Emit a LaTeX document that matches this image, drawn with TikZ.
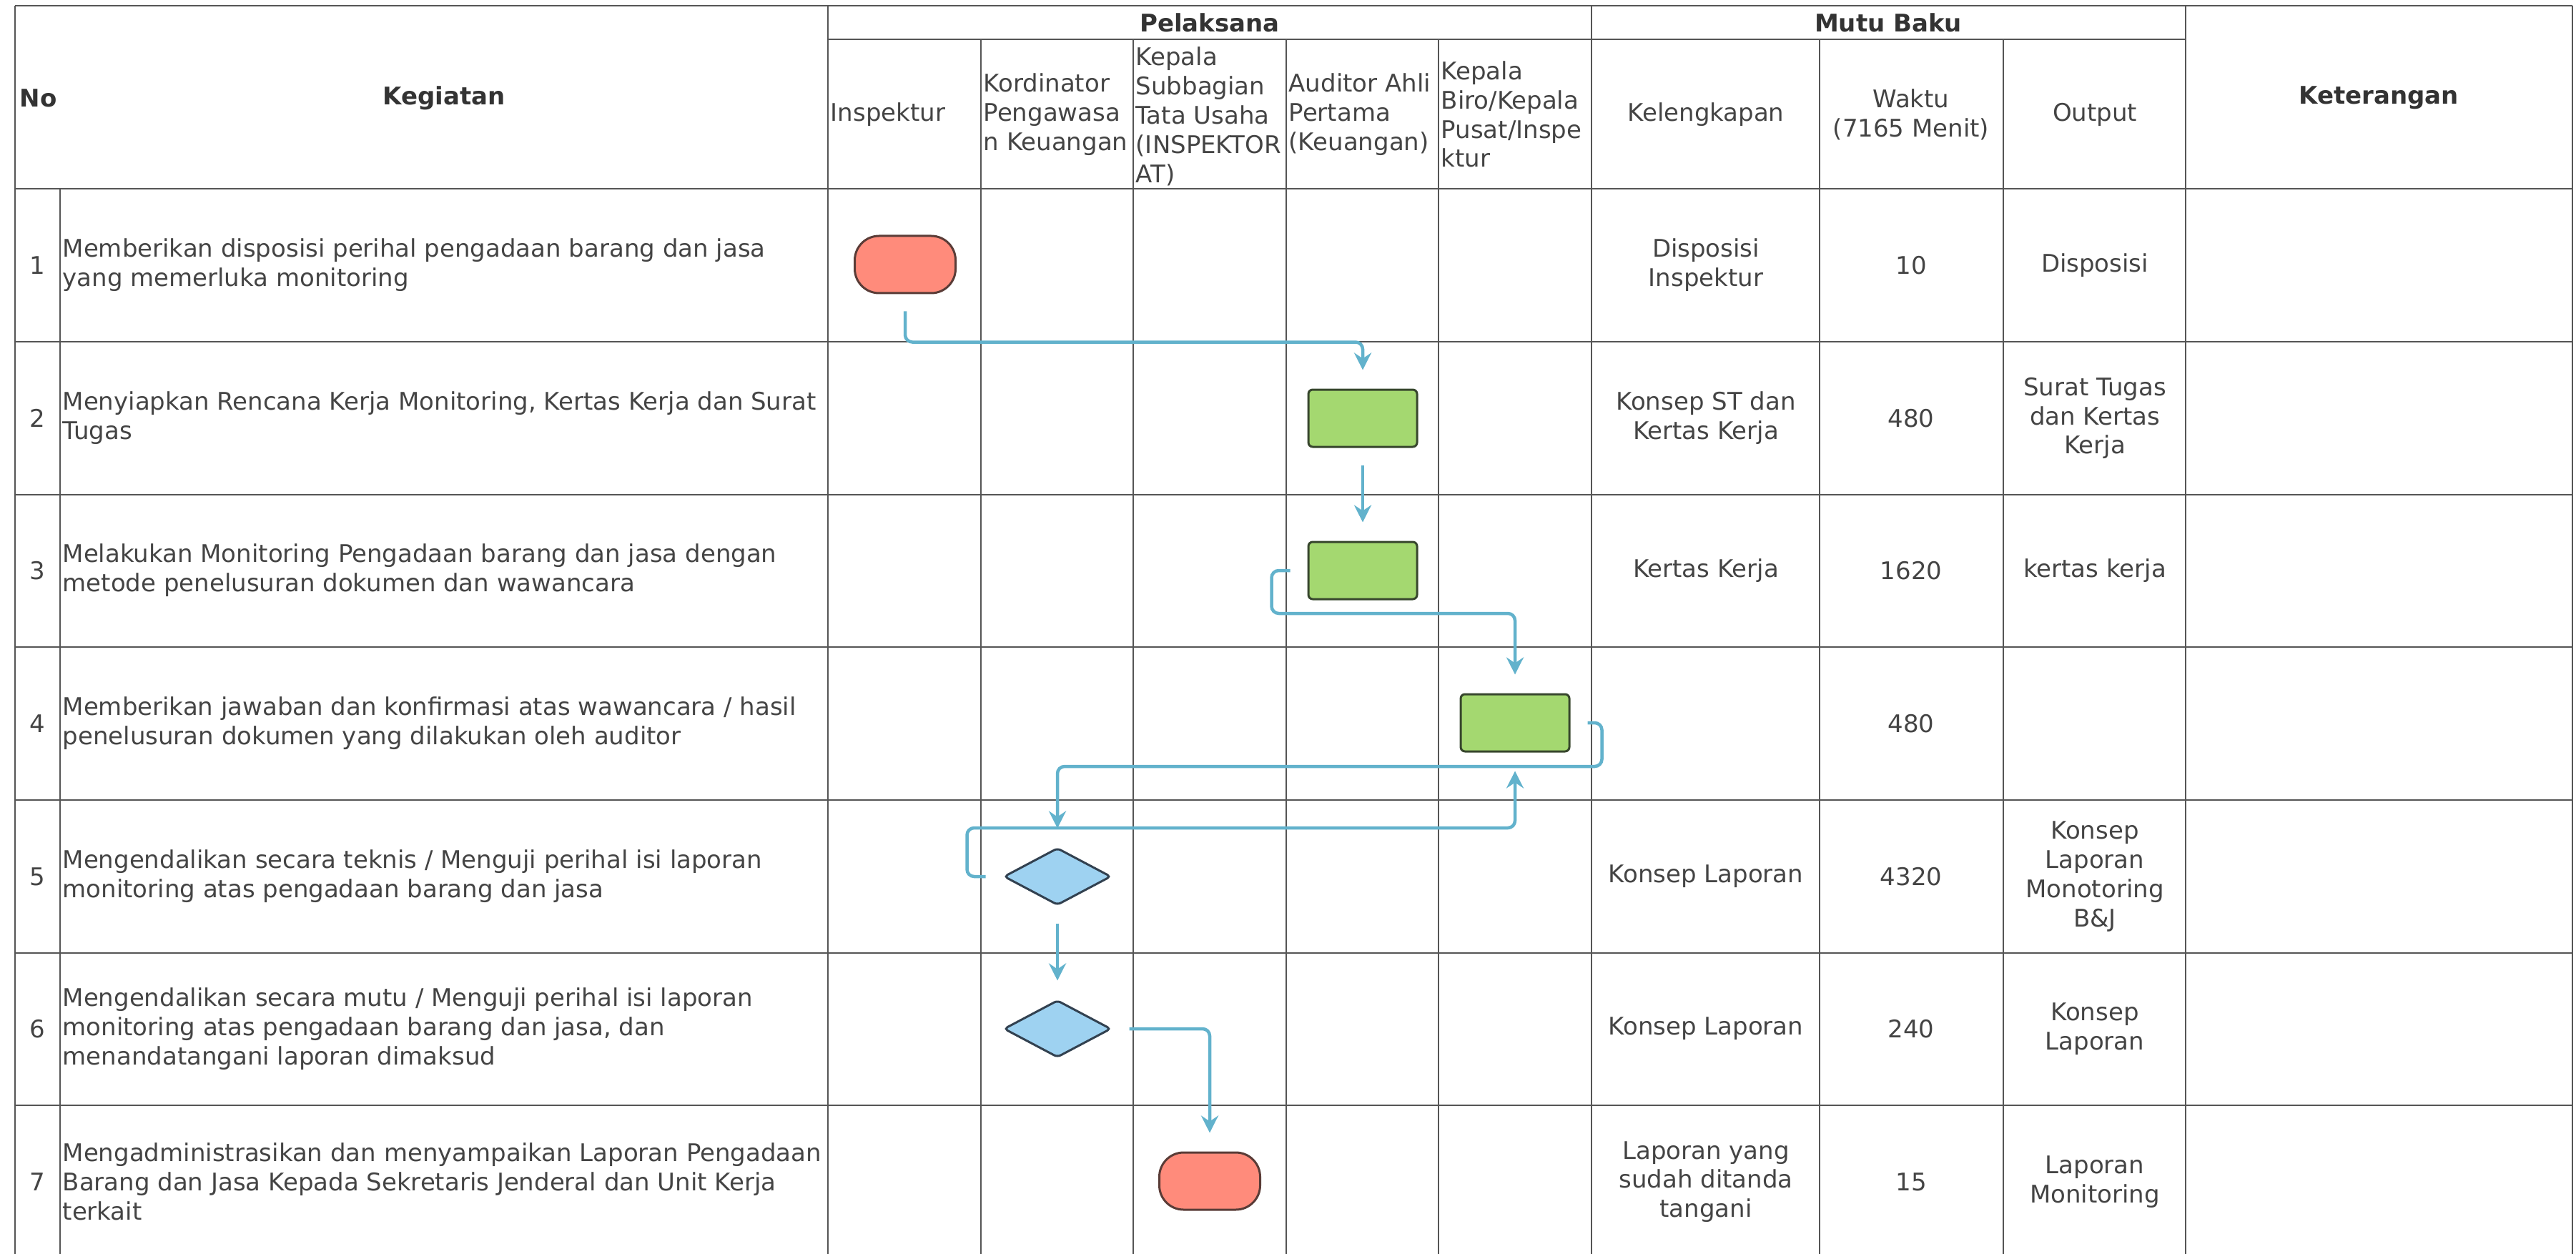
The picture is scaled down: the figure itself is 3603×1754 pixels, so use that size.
\documentclass[tikz,border=0pt]{standalone}
\usepackage{fontspec}
\setmainfont{DejaVu Sans}
\usetikzlibrary{arrows.meta,shapes.geometric}

\begin{document}
\begin{tikzpicture}[x=0.1mm,y=-0.1mm]
% ------------------------------------------------ flow chart colors
\definecolor{fc_grid}{RGB}{85,85,85}     %#555555
\definecolor{fc_text}{RGB}{68,68,68}     %#444444
\definecolor{fc_head}{RGB}{51,51,51}     %#333333
\definecolor{fc_red}{RGB}{255,139,123}   %#FF8B7B
\definecolor{fc_green}{RGB}{164,216,112} %#A4D870
\definecolor{fc_blue}{RGB}{158,210,241}  %#9ED2F1
\definecolor{fc_line}{RGB}{98,178,204}   %#62B2CC

\tikzset{
  grid/.style={draw=fc_grid,line width=0.28mm},
  txt/.style={text=fc_text,inner sep=0,align=center,font=\fontsize{9.67}{11.62}\selectfont},
  hdr/.style={txt,text=fc_head,font=\fontsize{9.67}{11.62}\selectfont\bfseries},
  lft/.style={txt,anchor=west,align=left},
  terminal/.style={draw={rgb,255:red,90;green,60;blue,55},fill=fc_red,line width=0.3mm,
    rounded corners=3.4mm,minimum width=14.1mm,minimum height=8mm,inner sep=0},
  process/.style={draw={rgb,255:red,55;green,70;blue,45},fill=fc_green,line width=0.3mm,
    rounded corners=0.6mm,minimum width=15.2mm,minimum height=8mm,inner sep=0},
  decision/.style={diamond,aspect=1.875,draw={rgb,255:red,50;green,65;blue,80},fill=fc_blue,
    line width=0.3mm,rounded corners=0.5mm,minimum width=15mm,minimum height=8mm,inner sep=0},
  flow/.style={draw=fc_line,line width=0.45mm,rounded corners=1mm,shorten <=2.4mm,shorten >=2.6mm,
    -{Stealth[length=2.4mm,width=2.4mm,inset=0.8mm]}}
}

\useasboundingbox (0,0) rectangle (3603,1754);

% ------------------------------------------------ table
\draw[grid] (21,8) -- (3598,8);
\draw[grid] (1158,55) -- (3057,55);
\foreach \y in {264,478,692,905,1119,1333,1546}
  \draw[grid] (21,\y) -- (3598,\y);
\foreach \x in {21,1158,2226,3057,3598}
  \draw[grid] (\x,8) -- (\x,1754);
\foreach \x in {1372,1585,1799,2012,2545,2802}
  \draw[grid] (\x,55) -- (\x,1754);
\draw[grid] (84,264) -- (84,1754);

% ------------------------------------------------ header
\node[hdr,anchor=west] (hNo) at (27,137) {No};
\node[hdr] (hKeg) at (621,137) {Kegiatan};
\node[hdr] (hPel) at (1692,32) {Pelaksana};
\node[hdr] (hMutu) at (2641,32) {Mutu Baku};
\node[hdr] (hKet) at (3327,137) {Keterangan};
\node[lft] (hIns) at (1161,160) {Inspektur};
\node[lft] (hKor) at (1375,160) {Kordinator\\Pengawasa\\n Keuangan};
\node[lft] (hKsb) at (1588,163) {Kepala\\Subbagian\\Tata Usaha\\(INSPEKTOR\\AT)};
\node[lft] (hAud) at (1802,160) {Auditor Ahli\\Pertama\\(Keuangan)};
\node[lft] (hBiro) at (2015,160) {Kepala\\Biro/Kepala\\Pusat/Inspe\\ktur};
\node[txt] (hLk) at (2386,160) {Kelengkapan};
\node[txt] (hWk) at (2673,160) {Waktu\\(7165 Menit)};
\node[txt] (hOut) at (2930,160) {Output};

% ------------------------------------------------ rows
\foreach \i/\y/\keg/\lk/\wk/\out in {
  1/371/{Memberikan disposisi perihal pengadaan barang dan jasa\\yang memerluka monitoring}/{Disposisi\\Inspektur}/10/{Disposisi},
  2/585/{Menyiapkan Rencana Kerja Monitoring, Kertas Kerja dan Surat\\Tugas}/{Konsep ST dan\\Kertas Kerja}/480/{Surat Tugas\\dan Kertas\\Kerja},
  3/798/{Melakukan Monitoring Pengadaan barang dan jasa dengan\\metode penelusuran dokumen dan wawancara}/{Kertas Kerja}/1620/{kertas kerja},
  4/1012/{Memberikan jawaban dan konfirmasi atas wawancara / hasil\\penelusuran dokumen yang dilakukan oleh auditor}/{}/480/{},
  5/1226/{Mengendalikan secara teknis / Menguji perihal isi laporan\\monitoring atas pengadaan barang dan jasa}/{Konsep Laporan}/4320/{Konsep\\Laporan\\Monotoring\\B\&J},
  6/1439/{Mengendalikan secara mutu / Menguji perihal isi laporan\\monitoring atas pengadaan barang dan jasa, dan\\menandatangani laporan dimaksud}/{Konsep Laporan}/240/{Konsep\\Laporan},
  7/1653/{Mengadministrasikan dan menyampaikan Laporan Pengadaan\\Barang dan Jasa Kepada Sekretaris Jenderal dan Unit Kerja\\terkait}/{Laporan yang\\sudah ditanda\\tangani}/15/{Laporan\\Monitoring}}
{
  \node[txt] (no\i) at (52,\y) {\i};
  \node[lft] (keg\i) at (87,\y) {\keg};
  \node[txt] (lk\i) at (2386,\y) {\lk};
  \node[txt] (wk\i) at (2673,\y) {\wk};
  \node[txt] (out\i) at (2930,\y) {\out};
}

% ------------------------------------------------ flow shapes
\node[terminal] (t1) at (1266,370) {};
\node[process] (p2) at (1906,585) {};
\node[process] (p3) at (1906,798) {};
\node[process] (p4) at (2119,1011) {};
\node[decision] (d5) at (1479,1226) {};
\node[decision] (d6) at (1479,1439) {};
\node[terminal] (t7) at (1692,1652) {};

% ------------------------------------------------ connectors
\draw[flow] (t1.south) -- ++(0,67) -| (p2.north);
\draw[flow] (p2.south) -- (p3.north);
\draw[flow] (p3.west) -- ++(-50,0) -- ++(0,60) -| (p4.north);
\draw[flow] (p4.east) -- ++(44,0) -- ++(0,61) -| (d5.north);
\draw[flow] (d5.west) -- ++(-50,0) -- ++(0,-68) -| (p4.south);
\draw[flow] (d5.south) -- (d6.north);
\draw[flow] (d6.east) -| (t7.north);

\end{tikzpicture}
\end{document}
